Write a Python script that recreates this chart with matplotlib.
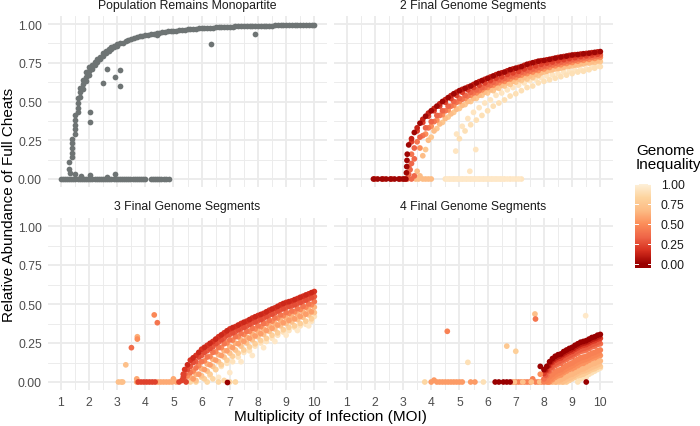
import numpy as np
import matplotlib
matplotlib.use("Agg")
import matplotlib.pyplot as plt
from matplotlib.colors import LinearSegmentedColormap, Normalize

plt.rcParams['font.family'] = ['Liberation Sans', 'DejaVu Sans']

nan = float('nan')

# ---------------- text / scales ----------------
PANEL_TITLES = ["Population Remains Monopartite", "2 Final Genome Segments",
                "3 Final Genome Segments", "4 Final Genome Segments"]
X_TICKS = [1, 2, 3, 4, 5, 6, 7, 8, 9, 10]
X_MINOR = [1.5, 2.5, 3.5, 4.5, 5.5, 6.5, 7.5, 8.5, 9.5]
Y_TICKS = [0.0, 0.25, 0.5, 0.75, 1.0]
Y_MINOR = [0.125, 0.375, 0.625, 0.875]
Y_TICK_LABELS = ["0.00", "0.25", "0.50", "0.75", "1.00"]
LEGEND_TICKS = [0.0, 0.25, 0.5, 0.75, 1.0]
LEGEND_LABELS = ["0.00", "0.25", "0.50", "0.75", "1.00"]
LEGEND_TITLE = "Genome\nInequality"
X_LABEL = "Multiplicity of Infection (MOI)"
Y_LABEL = "Relative Abundance of Full Cheats"
ORRD = ["#990000", "#D7301F", "#EF6548", "#FC8D59", "#FDBB84", "#FDD49E", "#FEF0D9"]
GREY = "#6E7474"

# ---------------- panel 1: monopartite (grey) ----------------
P1_CURVE_X = [1.3,
              1.4, 1.4, 1.4, 1.4, 1.4,
              1.5, 1.5, 1.5, 1.5, 1.5,
              1.6, 1.6, 1.6, 1.6,
              1.7, 1.7, 1.7,
              1.8, 1.8, 1.8,
              1.9, 1.9, 1.9,
              2.0, 2.0, 2.0,
              2.1, 2.1, 2.2, 2.2, 2.3, 2.3, 2.4, 2.4, 2.5, 2.5, 2.6, 2.6,
              2.7, 2.7, 2.8, 2.8, 2.9, 2.9, 3.0, 3.0,
              3.2, 3.4, 3.6, 3.8, 4.0, 4.2, 4.4, 4.6, 4.8, 5.0, 5.2, 5.4,
              5.6, 5.8, 6.0, 6.2, 6.4, 6.6, 6.8, 7.0, 7.2, 7.4, 7.6, 7.8,
              8.0, 8.2, 8.4, 8.6, 8.8, 9.0, 9.2, 9.4, 9.6, 9.8, 10.0]
P1_CURVE_Y = [0.11,
              0.14, 0.17, 0.20, 0.23, 0.26,
              0.29, 0.32, 0.35, 0.38, 0.41,
              0.43, 0.46, 0.49, 0.52,
              0.53, 0.56, 0.59,
              0.58, 0.61, 0.64,
              0.63, 0.66, 0.69,
              0.67, 0.70, 0.72,
              0.71, 0.735, 0.735, 0.755, 0.755, 0.775, 0.775, 0.79, 0.795, 0.81, 0.81, 0.825,
              0.825, 0.838, 0.838, 0.85, 0.85, 0.86, 0.86, 0.87,
              0.88, 0.895, 0.91, 0.92, 0.93, 0.935, 0.942, 0.948, 0.953, 0.957, 0.96, 0.964,
              0.967, 0.97, 0.972, 0.975, 0.977, 0.979, 0.981, 0.983, 0.984, 0.985, 0.987, 0.988,
              0.989, 0.99, 0.99, 0.991, 0.991, 0.992, 0.992, 0.993, 0.993, 0.994, 0.994]
P1_MID_X = [3.1, 3.3, 3.5, 3.7, 3.9, 4.1, 4.3, 4.5, 4.7, 4.9, 5.1, 5.3, 5.5, 5.7, 5.9, 6.1,
            6.3, 6.5, 6.7, 6.9, 7.1, 7.3, 7.5, 7.7, 7.9, 8.1, 8.3, 8.5, 8.7, 8.9, 9.1, 9.3,
            9.5, 9.7, 9.9]
P1_MID_Y = [0.875, 0.888, 0.903, 0.915, 0.925, 0.932, 0.938, 0.945, 0.95, 0.955, 0.958, 0.962,
            0.965, 0.968, 0.971, 0.973, 0.976, 0.978, 0.98, 0.982, 0.983, 0.985, 0.986, 0.987,
            0.988, 0.989, 0.99, 0.99, 0.991, 0.991, 0.992, 0.992, 0.993, 0.993, 0.994]
P1_ZERO_X = [1.0, 1.15, 1.3, 1.45, 1.6, 1.75, 1.9, 2.05, 2.2, 2.35, 2.5, 2.65, 2.8,
             2.95, 3.1, 3.25, 3.4, 3.55, 3.7, 3.85, 4.0, 4.2, 4.35, 4.5, 4.65, 4.85]
P1_ZERO_Y = [0.0, 0.0, 0.0, 0.0, 0.0, 0.0, 0.0, 0.0, 0.0, 0.0, 0.0, 0.0, 0.0,
             0.0, 0.0, 0.0, 0.0, 0.0, 0.0, 0.0, 0.0, 0.0, 0.0, 0.0, 0.0, 0.0]
P1_ZERO2_X = [1.075, 1.225, 1.375, 1.525, 1.675, 1.825, 1.975, 2.125, 2.275, 2.425, 2.575,
              2.725, 2.875, 3.025, 3.175, 3.325, 3.475, 3.625, 3.775, 3.925, 4.275, 4.425,
              4.575, 4.75]
P1_ZERO2_Y = [0.0, 0.0, 0.0, 0.0, 0.0, 0.0, 0.0, 0.0, 0.0, 0.0, 0.0,
              0.0, 0.0, 0.0, 0.0, 0.0, 0.0, 0.0, 0.0, 0.0, 0.0, 0.0,
              0.0, 0.0]
P1_LOW_X = [1.3, 1.32, 1.5, 1.72, 2.03, 2.65, 2.92]
P1_LOW_Y = [0.065, 0.04, 0.03, 0.02, 0.025, 0.015, 0.03]
P1_OUT_X = [2.03, 2.03, 2.51, 2.63, 2.92, 3.12, 3.12, 4.4, 6.32, 7.9]
P1_OUT_Y = [0.43, 0.37, 0.62, 0.71, 0.66, 0.705, 0.60, 0.93, 0.87, 0.935]

# ---------------- panel 2: 2 final segments ----------------
P2_XA = [3.2, 3.4, 3.6, 3.8, 4.0, 4.2, 4.4, 4.6, 4.8, 5.0, 5.2, 5.4, 5.6, 5.8, 6.0, 6.2, 6.4,
         6.6, 6.8, 7.0, 7.2, 7.4, 7.6, 7.8, 8.0, 8.2, 8.4, 8.6, 8.8, 9.0, 9.2, 9.4, 9.6, 9.8, 10.0]
P2_XB = [3.3, 3.5, 3.7, 3.9, 4.1, 4.3, 4.5, 4.7, 4.9, 5.1, 5.3, 5.5, 5.7, 5.9, 6.1, 6.3, 6.5,
         6.7, 6.9, 7.1, 7.3, 7.5, 7.7, 7.9, 8.1, 8.3, 8.5, 8.7, 8.9, 9.1, 9.3, 9.5, 9.7, 9.9]
P2_Y_I02 = [0.22, 0.30, 0.36, 0.405, 0.44, 0.47, 0.50, 0.525, 0.55, 0.57, 0.585, 0.60, 0.62,
            0.635, 0.65, 0.665, 0.68, 0.69, 0.705, 0.715, 0.725, 0.74, 0.75, 0.76, 0.765,
            0.772, 0.78, 0.787, 0.793, 0.80, 0.803, 0.808, 0.812, 0.817, 0.822]
P2_Y_I12B = [0.26, 0.33, 0.385, 0.425, 0.455, 0.485, 0.512, 0.538, 0.56, 0.578, 0.593, 0.61,
             0.628, 0.643, 0.658, 0.673, 0.685, 0.698, 0.71, 0.72, 0.733, 0.745, 0.755, 0.763,
             0.769, 0.776, 0.784, 0.79, 0.797, 0.802, 0.806, 0.81, 0.815, 0.82]
P2_Y_I22 = [0.24, 0.31, 0.365, 0.405, 0.44, 0.47, 0.495, 0.52, 0.54, 0.56, 0.575, 0.59, 0.605,
            0.62, 0.635, 0.65, 0.66, 0.675, 0.685, 0.695, 0.71, 0.72, 0.73, 0.74, 0.748,
            0.755, 0.763, 0.77, 0.777, 0.783, 0.79, 0.795, 0.80, 0.805]
P2_Y_I33 = [0.08, 0.20, 0.27, 0.33, 0.37, 0.41, 0.44, 0.47, 0.50, 0.52, 0.54, 0.56, 0.575,
            0.59, 0.61, 0.625, 0.64, 0.65, 0.665, 0.675, 0.69, 0.70, 0.71, 0.72, 0.73,
            0.74, 0.748, 0.755, 0.763, 0.77, 0.777, 0.783, 0.79, 0.795, 0.80]
P2_Y_I40B = [0.16, 0.24, 0.28, 0.33, 0.37, 0.41, 0.44, 0.47, 0.495, 0.515, 0.535, 0.555, 0.57,
             0.59, 0.605, 0.62, 0.635, 0.645, 0.66, 0.67, 0.685, 0.695, 0.705, 0.715, 0.725,
             0.735, 0.742, 0.75, 0.757, 0.765, 0.771, 0.778, 0.784, 0.79]
P2_Y_I50 = [nan, nan, 0.20, 0.29, 0.34, 0.38, 0.415, 0.445, 0.475, 0.50, 0.52, 0.54, 0.555,
            0.575, 0.59, 0.605, 0.62, 0.63, 0.645, 0.655, 0.67, 0.68, 0.69, 0.70, 0.71,
            0.72, 0.73, 0.737, 0.745, 0.752, 0.76, 0.766, 0.772, 0.778, 0.785]
P2_Y_I68 = [nan, nan, 0.15, 0.25, 0.31, 0.355, 0.39, 0.42, 0.45, 0.475, 0.50, 0.52, 0.54,
            0.56, 0.575, 0.59, 0.605, 0.62, 0.63, 0.645, 0.655, 0.665, 0.675, 0.685, 0.695,
            0.705, 0.713, 0.72, 0.728, 0.735, 0.742, 0.75, 0.755, 0.762]
P2_Y_I75 = [nan, nan, nan, 0.19, 0.27, 0.325, 0.365, 0.40, 0.43, 0.455, 0.48, 0.50, 0.52,
            0.54, 0.555, 0.57, 0.585, 0.60, 0.61, 0.625, 0.635, 0.645, 0.655, 0.668, 0.69,
            0.70, 0.71, 0.715, 0.725, 0.73, 0.735, 0.742, 0.748, 0.752, 0.758]
P2_CREAM_XA = [4.9, 5.1, 5.3, 5.5, 5.7, 5.9, 6.1, 6.3, 6.5, 6.7, 6.9, 7.1, 7.3, 7.5, 7.7,
               7.9, 8.1, 8.3, 8.5, 8.7, 8.9, 9.1, 9.3, 9.5, 9.7, 9.9]
P2_CREAM_YA = [0.29, 0.34, 0.39, 0.43, 0.46, 0.49, 0.51, 0.54, 0.555, 0.575, 0.59, 0.605, 0.62,
               0.635, 0.645, 0.655, 0.665, 0.672, 0.68, 0.69, 0.695, 0.70, 0.705, 0.71, 0.72, 0.73]
P2_CREAM_XB = [5.0, 5.2, 5.4, 5.6, 5.8, 6.0, 6.2, 6.4, 6.6, 6.8, 7.0, 7.2, 7.4, 7.6, 7.8,
               8.0, 8.2, 8.4, 8.6, 8.8, 9.0, 9.2, 9.4, 9.6, 9.8, 10.0]
P2_CREAM_YB = [0.26, 0.31, 0.35, 0.38, 0.41, 0.44, 0.47, 0.49, 0.51, 0.535, 0.55, 0.57, 0.59,
               0.60, 0.62, 0.63, 0.64, 0.65, 0.66, 0.67, 0.68, 0.69, 0.695, 0.705, 0.715, 0.725]
P2_ZDARK_X = [1.95, 2.1, 2.25, 2.4, 2.55, 2.7, 2.85, 3.0, 3.1, 3.12, 3.13, 3.14, 3.15]
P2_ZDARK_Y = [0.0, 0.0, 0.0, 0.0, 0.0, 0.0, 0.0, 0.0, 0.0, 0.04, 0.08, 0.12, 0.16]
P2_ZRED_X = [2.0, 2.3, 2.6, 2.9, 3.05]
P2_ZRED_Y = [0.0, 0.0, 0.0, 0.0, 0.0]
P2_LSAL_X = [3.15, 3.2, 3.25, 3.3, 3.3, 3.4, 3.4]
P2_LSAL_Y = [0.0, 0.03, 0.06, 0.0, 0.1, 0.02, 0.13]
P2_LORA_X = [3.45, 3.5, 3.55, 3.6, 3.7, 3.8, 3.9, 4.0]
P2_LORA_Y = [0.0, 0.05, 0.0, 0.02, 0.0, 0.0, 0.0, 0.0]
P2_ZCREAM_X = [4.5, 4.65, 4.8, 4.95, 5.1, 5.25, 5.4, 5.55, 5.7, 5.85, 6.0, 6.15, 6.3,
               6.45, 6.6, 6.8, 7.0, 7.2, 4.87, 5.58, 5.37]
P2_ZCREAM_Y = [0.0, 0.0, 0.0, 0.0, 0.0, 0.0, 0.0, 0.0, 0.0, 0.0, 0.0, 0.0, 0.0,
               0.0, 0.0, 0.0, 0.0, 0.0, 0.18, 0.19, 0.05]
P2_ZCREAM2_X = [4.575, 4.725, 4.875, 5.025, 5.175, 5.325, 5.475, 5.625, 5.775, 5.925, 6.075,
                6.225, 6.375, 6.525, 6.7, 6.9, 7.1]
P2_ZCREAM2_Y = [0.0, 0.0, 0.0, 0.0, 0.0, 0.0, 0.0, 0.0, 0.0, 0.0, 0.0,
                0.0, 0.0, 0.0, 0.0, 0.0, 0.0]

# ---------------- panel 3: 3 final segments ----------------
P3_XA = [5.4, 5.6, 5.8, 6.0, 6.2, 6.4, 6.6, 6.8, 7.0, 7.2, 7.4, 7.6, 7.8, 8.0, 8.2, 8.4,
         8.6, 8.8, 9.0, 9.2, 9.4, 9.6, 9.8, 10.0]
P3_XB = [5.5, 5.7, 5.9, 6.1, 6.3, 6.5, 6.7, 6.9, 7.1, 7.3, 7.5, 7.7, 7.9, 8.1, 8.3, 8.5,
         8.7, 8.9, 9.1, 9.3, 9.5, 9.7, 9.9]
P3_Y_I14B = [0.11, 0.155, 0.19, 0.222, 0.248, 0.275, 0.302, 0.328, 0.348, 0.365, 0.383, 0.40,
             0.418, 0.433, 0.45, 0.468, 0.485, 0.503, 0.515, 0.528, 0.543, 0.558, 0.573]
P3_Y_I18 = [0.08, 0.14, 0.17, 0.21, 0.235, 0.26, 0.29, 0.315, 0.34, 0.355, 0.375, 0.39, 0.41,
            0.426, 0.44, 0.46, 0.475, 0.495, 0.51, 0.52, 0.535, 0.55, 0.565, 0.58]
P3_Y_I26 = [0.08, 0.125, 0.16, 0.19, 0.215, 0.245, 0.27, 0.30, 0.315, 0.335, 0.35, 0.37, 0.385,
            0.40, 0.42, 0.435, 0.455, 0.47, 0.485, 0.495, 0.51, 0.525, 0.54]
P3_Y_I30 = [0.05, 0.10, 0.13, 0.17, 0.20, 0.225, 0.255, 0.28, 0.305, 0.322, 0.343, 0.358, 0.378,
            0.393, 0.408, 0.428, 0.443, 0.463, 0.478, 0.488, 0.503, 0.518, 0.533, 0.548]
P3_Y_I40 = [0.02, 0.06, 0.09, 0.13, 0.16, 0.19, 0.22, 0.245, 0.27, 0.29, 0.31, 0.325, 0.345,
            0.36, 0.375, 0.395, 0.41, 0.43, 0.445, 0.455, 0.47, 0.485, 0.50, 0.515]
P3_Y_I48 = [0.04, 0.07, 0.105, 0.135, 0.163, 0.193, 0.22, 0.25, 0.268, 0.29, 0.305, 0.325, 0.34,
            0.355, 0.375, 0.39, 0.41, 0.425, 0.44, 0.45, 0.465, 0.48, 0.495]
P3_Y_I56 = [nan, 0.02, 0.05, 0.08, 0.11, 0.14, 0.17, 0.20, 0.22, 0.245, 0.26, 0.28, 0.295,
            0.31, 0.33, 0.345, 0.365, 0.38, 0.395, 0.405, 0.42, 0.435, 0.45]
P3_Y_I64 = [nan, 0.03, 0.05, 0.085, 0.115, 0.145, 0.175, 0.20, 0.228, 0.248, 0.27, 0.288, 0.308,
            0.325, 0.34, 0.36, 0.375, 0.395, 0.41, 0.42, 0.435, 0.45, 0.465, 0.48]
P3_Y_I72 = [nan, nan, 0.01, 0.04, 0.07, 0.10, 0.13, 0.16, 0.185, 0.205, 0.23, 0.25, 0.27,
            0.29, 0.305, 0.325, 0.34, 0.36, 0.375, 0.385, 0.40, 0.415, 0.43, 0.445]
P3_Y_I80 = [nan, nan, nan, 0.02, 0.05, 0.08, 0.11, 0.14, 0.165, 0.185, 0.205, 0.225, 0.245,
            0.265, 0.28, 0.30, 0.315, 0.335, 0.35, 0.36, 0.375, 0.39, 0.405]
P3_CREAM_XA = [6.3, 6.5, 6.7, 6.9, 7.1, 7.3, 7.5, 7.7, 7.9, 8.1, 8.3, 8.5, 8.7, 8.9, 9.1,
               9.3, 9.5, 9.7, 9.9, 10.0]
P3_CREAM_YA = [0.04, 0.08, 0.10, 0.12, 0.13, 0.16, 0.19, 0.20, 0.23, 0.25, 0.26, 0.28, 0.30,
               0.32, 0.33, 0.35, 0.36, 0.37, 0.39, 0.42]
P3_CREAM_XB = [6.6, 7.0, 7.4, 7.8, 8.2, 8.6, 9.0, 9.4, 9.8, 9.9]
P3_CREAM_YB = [0.03, 0.06, 0.13, 0.17, 0.22, 0.26, 0.30, 0.33, 0.36, 0.44]
P3_ZLO_X = [3.05, 3.15, 3.2]
P3_ZLO_Y = [0.0, 0.0, 0.0]
P3_ZRED_X = [3.75, 3.85, 3.95, 4.05, 4.15, 4.25, 4.35, 5.2, 5.3, 5.35, 5.35, 5.45]
P3_ZRED_Y = [0.0, 0.0, 0.0, 0.0, 0.0, 0.0, 0.0, 0.0, 0.01, 0.03, 0.05, 0.0]
P3_ZSAL_X = [3.7, 3.7, 4.45, 4.55, 4.65, 4.75, 4.85, 4.95, 5.0, 5.1]
P3_ZSAL_Y = [0.0, 0.02, 0.0, 0.0, 0.0, 0.0, 0.0, 0.0, 0.02, 0.0]
P3_ZLIGHT_X = [5.6, 5.7, 5.8, 6.0, 6.2, 6.4, 6.6, 6.8, 7.0, 7.2]
P3_ZLIGHT_Y = [0.0, 0.02, 0.0, 0.03, 0.0, 0.02, 0.0, 0.01, 0.0, 0.0]
P3_ZDARK_X = [6.9]
P3_ZDARK_Y = [0.0]
P3_OUT_X = [4.32, 4.43, 3.72, 3.72, 3.51, 3.31]
P3_OUT_Y = [0.43, 0.38, 0.29, 0.275, 0.22, 0.11]
P3_OUT_I = [0.48, 0.40, 0.62, 0.50, 0.36, 0.70]

# ---------------- panel 4: 4 final segments ----------------
P4_X = [8.0, 8.1, 8.2, 8.3, 8.4, 8.5, 8.6, 8.7, 8.8, 8.9, 9.0, 9.1, 9.2, 9.3, 9.4, 9.5,
        9.6, 9.7, 9.8, 9.9, 10.0]
P4_XB = [8.05, 8.15, 8.25, 8.35, 8.45, 8.55, 8.65, 8.75, 8.85, 8.95, 9.05, 9.15, 9.25, 9.35,
         9.45, 9.55, 9.65, 9.75, 9.85, 9.95]
P4_Y_I00 = [0.08, 0.10, 0.13, 0.15, 0.165, 0.175, 0.18, 0.195, 0.205, 0.215, 0.222, 0.235,
            0.245, 0.255, 0.26, 0.265, 0.275, 0.285, 0.29, 0.30, 0.305]
P4_Y_I10B = [0.078, 0.103, 0.128, 0.146, 0.158, 0.166, 0.176, 0.188, 0.198, 0.206, 0.216,
             0.228, 0.238, 0.246, 0.251, 0.258, 0.268, 0.276, 0.283, 0.291]
P4_Y_I20 = [0.055, 0.075, 0.105, 0.125, 0.14, 0.15, 0.155, 0.17, 0.18, 0.19, 0.197, 0.21,
            0.22, 0.23, 0.235, 0.24, 0.25, 0.26, 0.265, 0.275, 0.28]
P4_Y_I30B = [0.045, 0.07, 0.095, 0.113, 0.125, 0.133, 0.143, 0.155, 0.165, 0.173, 0.183,
             0.195, 0.205, 0.213, 0.218, 0.225, 0.235, 0.243, 0.25, 0.258]
P4_Y_I38 = [0.02, 0.04, 0.07, 0.09, 0.105, 0.115, 0.12, 0.135, 0.145, 0.155, 0.162, 0.175,
            0.185, 0.195, 0.20, 0.205, 0.215, 0.225, 0.23, 0.24, 0.245]
P4_Y_I45 = [0.0, 0.01, 0.035, 0.05, 0.065, 0.075, 0.08, 0.095, 0.105, 0.115, 0.122, 0.135,
            0.145, 0.155, 0.16, 0.165, 0.175, 0.185, 0.19, 0.20, 0.205]
P4_Y_I48B = [nan, 0.0, 0.02, 0.038, 0.05, 0.058, 0.068, 0.08, 0.09, 0.098, 0.108, 0.12, 0.13,
             0.138, 0.143, 0.15, 0.16, 0.168, 0.175, 0.183]
P4_Y_I52 = [nan, 0.0, 0.0, 0.015, 0.03, 0.04, 0.045, 0.06, 0.07, 0.08, 0.085, 0.095, 0.105,
            0.115, 0.12, 0.13, 0.14, 0.15, 0.155, 0.165, 0.17]
P4_Y_I65 = [nan, nan, nan, 0.0, 0.0, 0.01, 0.015, 0.025, 0.035, 0.045, 0.05, 0.06, 0.07,
            0.08, 0.085, 0.095, 0.105, 0.115, 0.12, 0.13, 0.135]
P4_Y_I70B = [nan, nan, nan, nan, 0.0, 0.0, 0.0, 0.01, 0.02, 0.028, 0.038, 0.05, 0.06, 0.068,
             0.073, 0.08, 0.09, 0.098, 0.105, 0.113]
P4_Y_I78 = [nan, nan, nan, nan, nan, nan, nan, 0.0, 0.0, 0.01, 0.02, 0.03, 0.04, 0.045,
            0.05, 0.06, 0.07, 0.08, 0.085, 0.095, 0.10]
P4_Y_I90 = [nan, nan, nan, nan, nan, nan, nan, nan, nan, nan, nan, nan, 0.0, 0.02, 0.03,
            0.03, 0.05, 0.06, 0.07, 0.08, 0.09]
P4_ZSAL_X = [4.0, 4.1, 4.2, 4.3, 4.4, 4.5, 4.6, 4.7, 4.8, 4.9, 5.0, 5.1, 5.4, 5.55]
P4_ZSAL_Y = [0.0, 0.012, 0.0, 0.0, 0.0, 0.0, 0.0, 0.0, 0.0, 0.0, 0.0, 0.0, 0.0, 0.0]
P4_ZDARK_X = [6.27, 6.4, 6.56, 6.68, 6.8, 9.5, 7.87]
P4_ZDARK_Y = [0.0, 0.0, 0.0, 0.0, 0.0, 0.0, 0.10]
P4_ZSAL2_X = [6.9, 7.0, 7.1, 7.2, 7.3, 7.4, 7.5, 7.6, 7.7, 7.8, 7.9]
P4_ZSAL2_Y = [0.0, 0.0, 0.0, 0.0, 0.0, 0.0, 0.0, 0.02, 0.0, 0.0, 0.0]
P4_ZORA_X = [6.95, 7.25, 7.55, 7.85]
P4_ZORA_Y = [0.0, 0.0, 0.0, 0.0]
P4_OUT_X = [3.77, 5.85, 4.57, 5.3, 6.68, 7.0, 7.68, 7.7, 9.48, 7.87]
P4_OUT_Y = [0.0, 0.0, 0.325, 0.126, 0.23, 0.197, 0.436, 0.404, 0.425, 0.05]
P4_OUT_I = [0.85, 0.9, 0.45, 0.9, 0.75, 0.8, 0.7, 0.4, 0.95, 0.5]

# series: (x, y, inequality)
P1_SERIES = [(P1_ZERO_X, P1_ZERO_Y), (P1_ZERO2_X, P1_ZERO2_Y), (P1_LOW_X, P1_LOW_Y),
             (P1_CURVE_X, P1_CURVE_Y), (P1_MID_X, P1_MID_Y), (P1_OUT_X, P1_OUT_Y)]
P2_SERIES = [(P2_CREAM_XA, P2_CREAM_YA, 0.93), (P2_CREAM_XB, P2_CREAM_YB, 0.90),
             (P2_ZCREAM_X, P2_ZCREAM_Y, 0.93), (P2_ZCREAM2_X, P2_ZCREAM2_Y, 0.95),
             (P2_XA, P2_Y_I75, 0.75), (P2_XB, P2_Y_I68, 0.68), (P2_LORA_X, P2_LORA_Y, 0.68),
             (P2_XA, P2_Y_I50, 0.50), (P2_XB, P2_Y_I40B, 0.40), (P2_XA, P2_Y_I33, 0.33),
             (P2_LSAL_X, P2_LSAL_Y, 0.35),
             (P2_XB, P2_Y_I22, 0.22), (P2_ZRED_X, P2_ZRED_Y, 0.18),
             (P2_XB, P2_Y_I12B, 0.12), (P2_XA, P2_Y_I02, 0.02), (P2_ZDARK_X, P2_ZDARK_Y, 0.02)]
P3_SERIES = [(P3_CREAM_XA, P3_CREAM_YA, 0.92), (P3_CREAM_XB, P3_CREAM_YB, 0.95),
             (P3_ZLIGHT_X, P3_ZLIGHT_Y, 0.85), (P3_ZLO_X, P3_ZLO_Y, 0.70),
             (P3_XB, P3_Y_I80, 0.80), (P3_XA, P3_Y_I72, 0.72), (P3_XA, P3_Y_I64, 0.64),
             (P3_XB, P3_Y_I56, 0.56), (P3_ZSAL_X, P3_ZSAL_Y, 0.60), (P3_XB, P3_Y_I48, 0.48),
             (P3_XA, P3_Y_I40, 0.40), (P3_XA, P3_Y_I30, 0.30), (P3_XB, P3_Y_I26, 0.26),
             (P3_XA, P3_Y_I18, 0.18), (P3_XB, P3_Y_I14B, 0.14),
             (P3_ZRED_X, P3_ZRED_Y, 0.22), (P3_ZDARK_X, P3_ZDARK_Y, 0.0)]
P4_SERIES = [(P4_ZSAL_X, P4_ZSAL_Y, 0.55), (P4_ZSAL2_X, P4_ZSAL2_Y, 0.45),
             (P4_ZORA_X, P4_ZORA_Y, 0.70),
             (P4_X, P4_Y_I90, 0.90), (P4_X, P4_Y_I78, 0.78), (P4_XB, P4_Y_I70B, 0.70),
             (P4_X, P4_Y_I65, 0.65), (P4_X, P4_Y_I52, 0.52), (P4_XB, P4_Y_I48B, 0.48),
             (P4_X, P4_Y_I45, 0.45), (P4_X, P4_Y_I38, 0.38), (P4_XB, P4_Y_I30B, 0.30),
             (P4_X, P4_Y_I20, 0.20), (P4_XB, P4_Y_I10B, 0.10), (P4_X, P4_Y_I00, 0.0),
             (P4_ZDARK_X, P4_ZDARK_Y, 0.0)]

# ---------------- drawing ----------------
cmap = LinearSegmentedColormap.from_list("orrd_r", ORRD)
norm = Normalize(vmin=0.0, vmax=1.0)
PT_SIZE = 17

fig = plt.figure(figsize=(7.0, 4.27), dpi=100)
W, H = 700.0, 427.0
pos = {
    0: [48 / W, 1 - 187.75 / H, 279 / W, 170.5 / H],
    1: [334 / W, 1 - 187.75 / H, 279 / W, 170.5 / H],
    2: [48 / W, 1 - 390.8 / H, 279 / W, 171.6 / H],
    3: [334 / W, 1 - 390.8 / H, 279 / W, 171.6 / H],
}
axes = []
for i in range(4):
    ax = fig.add_axes(pos[i])
    ax.set_xlim(0.55, 10.45)
    ax.set_ylim(-0.05, 1.05)
    for s in ax.spines.values():
        s.set_visible(False)
    ax.set_xticks(X_TICKS)
    ax.set_xticks(X_MINOR, minor=True)
    ax.set_yticks(Y_TICKS)
    ax.set_yticks(Y_MINOR, minor=True)
    ax.set_yticklabels(Y_TICK_LABELS)
    ax.grid(which="major", color="#EBEBEB", linewidth=1.3)
    ax.grid(which="minor", color="#EBEBEB", linewidth=0.65)
    ax.set_axisbelow(True)
    ax.tick_params(which="both", length=0, labelsize=8.8, labelcolor="#4D4D4D", pad=4.4,
                   labelleft=(i in (0, 2)), labelbottom=(i in (2, 3)))
    ax.annotate(PANEL_TITLES[i], xy=(0.5, 1.0), xycoords="axes fraction",
                xytext=(0, 6.3), textcoords="offset points", ha="center",
                va="baseline", fontsize=8.8, color="#1A1A1A")
    axes.append(ax)


def draw(ax, x, y, ineq):
    vals = np.full(len(x), ineq)
    ax.scatter(x, y, c=vals, cmap=cmap, norm=norm, s=PT_SIZE, linewidths=0, zorder=3)


for xs, ys in P1_SERIES:
    axes[0].scatter(xs, ys, color=GREY, s=PT_SIZE, linewidths=0, zorder=3)
for xs, ys, v in P2_SERIES:
    draw(axes[1], xs, ys, v)
for xs, ys, v in P3_SERIES:
    draw(axes[2], xs, ys, v)
axes[2].scatter(P3_OUT_X, P3_OUT_Y, c=P3_OUT_I, cmap=cmap, norm=norm, s=PT_SIZE,
                linewidths=0, zorder=3)
for xs, ys, v in P4_SERIES:
    draw(axes[3], xs, ys, v)
axes[3].scatter(P4_OUT_X, P4_OUT_Y, c=P4_OUT_I, cmap=cmap, norm=norm, s=PT_SIZE,
                linewidths=0, zorder=3)

# axis titles
fig.text(330.5 / W, 1 - 421 / H, X_LABEL, ha="center", va="baseline", fontsize=11,
         color="black")
fig.text(9 / W, 1 - 205 / H, Y_LABEL, ha="center", va="center", rotation=90,
         fontsize=11, color="black")

# legend
cax = fig.add_axes([635 / W, 1 - 268.5 / H, 16 / W, 84 / H])
grad = np.linspace(1.0, -0.05, 256).reshape(-1, 1)
cax.imshow(grad, extent=[0, 1, -0.05, 1.0], aspect="auto", cmap=cmap, norm=norm,
           interpolation="bilinear")
cax.set_xlim(0, 1)
cax.set_ylim(-0.05, 1.0)
for v in LEGEND_TICKS:
    cax.plot([0, 0.2], [v, v], color="white", linewidth=0.7)
    cax.plot([0.8, 1.0], [v, v], color="white", linewidth=0.7)
for s in cax.spines.values():
    s.set_visible(False)
cax.set_xticks([])
cax.yaxis.tick_right()
cax.set_yticks(LEGEND_TICKS)
cax.set_yticklabels(LEGEND_LABELS)
cax.tick_params(length=0, labelsize=8.8, labelcolor="#1A1A1A", pad=7)
fig.text(636 / W, 1 - 144 / H, LEGEND_TITLE, ha="left", va="top", fontsize=11,
         linespacing=1.02, color="black")

fig.savefig("out.png", dpi=100)
